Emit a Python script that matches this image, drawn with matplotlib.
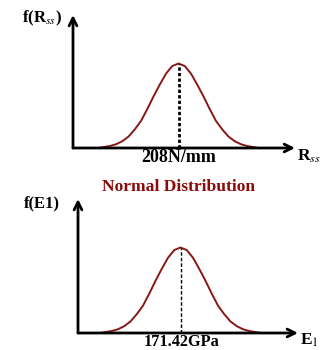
import matplotlib
matplotlib.use("Agg")
import matplotlib.pyplot as plt

# curve: offset from the mean (in sd) and relative height
offsets = [-3.2, -3.0, -2.75, -2.5, -2.25, -2.0, -1.75, -1.5, -1.25, -1.0, -0.75, -0.5, -0.25, 0.0,
           0.25, 0.5, 0.75, 1.0, 1.25, 1.5, 1.75, 2.0, 2.25, 2.5, 2.75, 3.0, 3.2]
heights = [0.0, 0.011, 0.023, 0.044, 0.08, 0.135, 0.22, 0.32, 0.46, 0.61, 0.75, 0.88, 0.97, 1.0,
           0.97, 0.88, 0.75, 0.61, 0.46, 0.32, 0.22, 0.135, 0.08, 0.044, 0.023, 0.011, 0.0]

mean_labels = ["208N/mm", "171.42GPa"]
y_labels = ["f(R$_{ss}$)", "f(E1)"]
x_labels = ["R$_{ss}$", "E$_1$"]
title = "Normal Distribution"

plt.rcParams['font.family'] = ['Liberation Serif', 'DejaVu Serif']
plt.rcParams['mathtext.fontset'] = 'stix'

W, H = 322, 350
fig = plt.figure(figsize=(W / 100, H / 100), dpi=100)

def fx(px):
    return px / W

def fy(py):
    return 1 - py / H

# panel geometry (pixels): left, right, baseline, top
panels = [(73, 295, 148, 15), (78, 298, 333, 199)]
peak_px = [178.5, 180.5]
peak_h = [84.5, 85.5]
sd_px = 25.0
dot_style = [(0, (1.2, 0.8)), (0, (2.5, 1.5))]
dot_w = [2.0, 1.0]
mean_size = [13, 11.8]
mean_pos = [(179, 157.5), (182, 342)]
ylab_pos = [(42, 18), (42, 203)]
xlab_pos = [(297, 156), (300, 340)]
curve_col = "#861818"

for i in range(2):
    l, r, b, t = panels[i]
    ax = fig.add_axes([fx(l), fy(b), fx(r - l), (b - t) / H])
    x0 = (l - peak_px[i]) / sd_px
    x1 = (r - peak_px[i]) / sd_px
    y1 = (b - t) / peak_h[i]
    ax.set_xlim(x0, x1)
    ax.set_ylim(0, y1)
    ax.axis("off")
    ax.plot(offsets, heights, color=curve_col, lw=1.4, solid_joinstyle="round")
    ax.plot([0, 0], [0, max(heights)], color="black", lw=dot_w[i], linestyle=dot_style[i])
    arrow = dict(arrowstyle="->", lw=2, color="black", mutation_scale=14, shrinkA=0, shrinkB=0)
    ax.annotate("", xy=(x1, 0), xytext=(x0, 0), arrowprops=arrow, annotation_clip=False)
    ax.annotate("", xy=(x0, y1), xytext=(x0, 0), arrowprops=arrow, annotation_clip=False)

    fig.text(fx(mean_pos[i][0]), fy(mean_pos[i][1]), mean_labels[i], ha="center", va="center",
             fontsize=mean_size[i], fontweight="bold")
    fig.text(fx(ylab_pos[i][0]), fy(ylab_pos[i][1]), y_labels[i], ha="center", va="center",
             fontsize=12, fontweight="bold")
    fig.text(fx(xlab_pos[i][0]), fy(xlab_pos[i][1]), x_labels[i], ha="left", va="center",
             fontsize=12.5, fontweight="bold")

fig.text(fx(178.5), fy(187), title, ha="center", va="center", fontsize=12.6,
         fontweight="bold", color="#8b0a0a")

fig.savefig("out.png", dpi=100)
